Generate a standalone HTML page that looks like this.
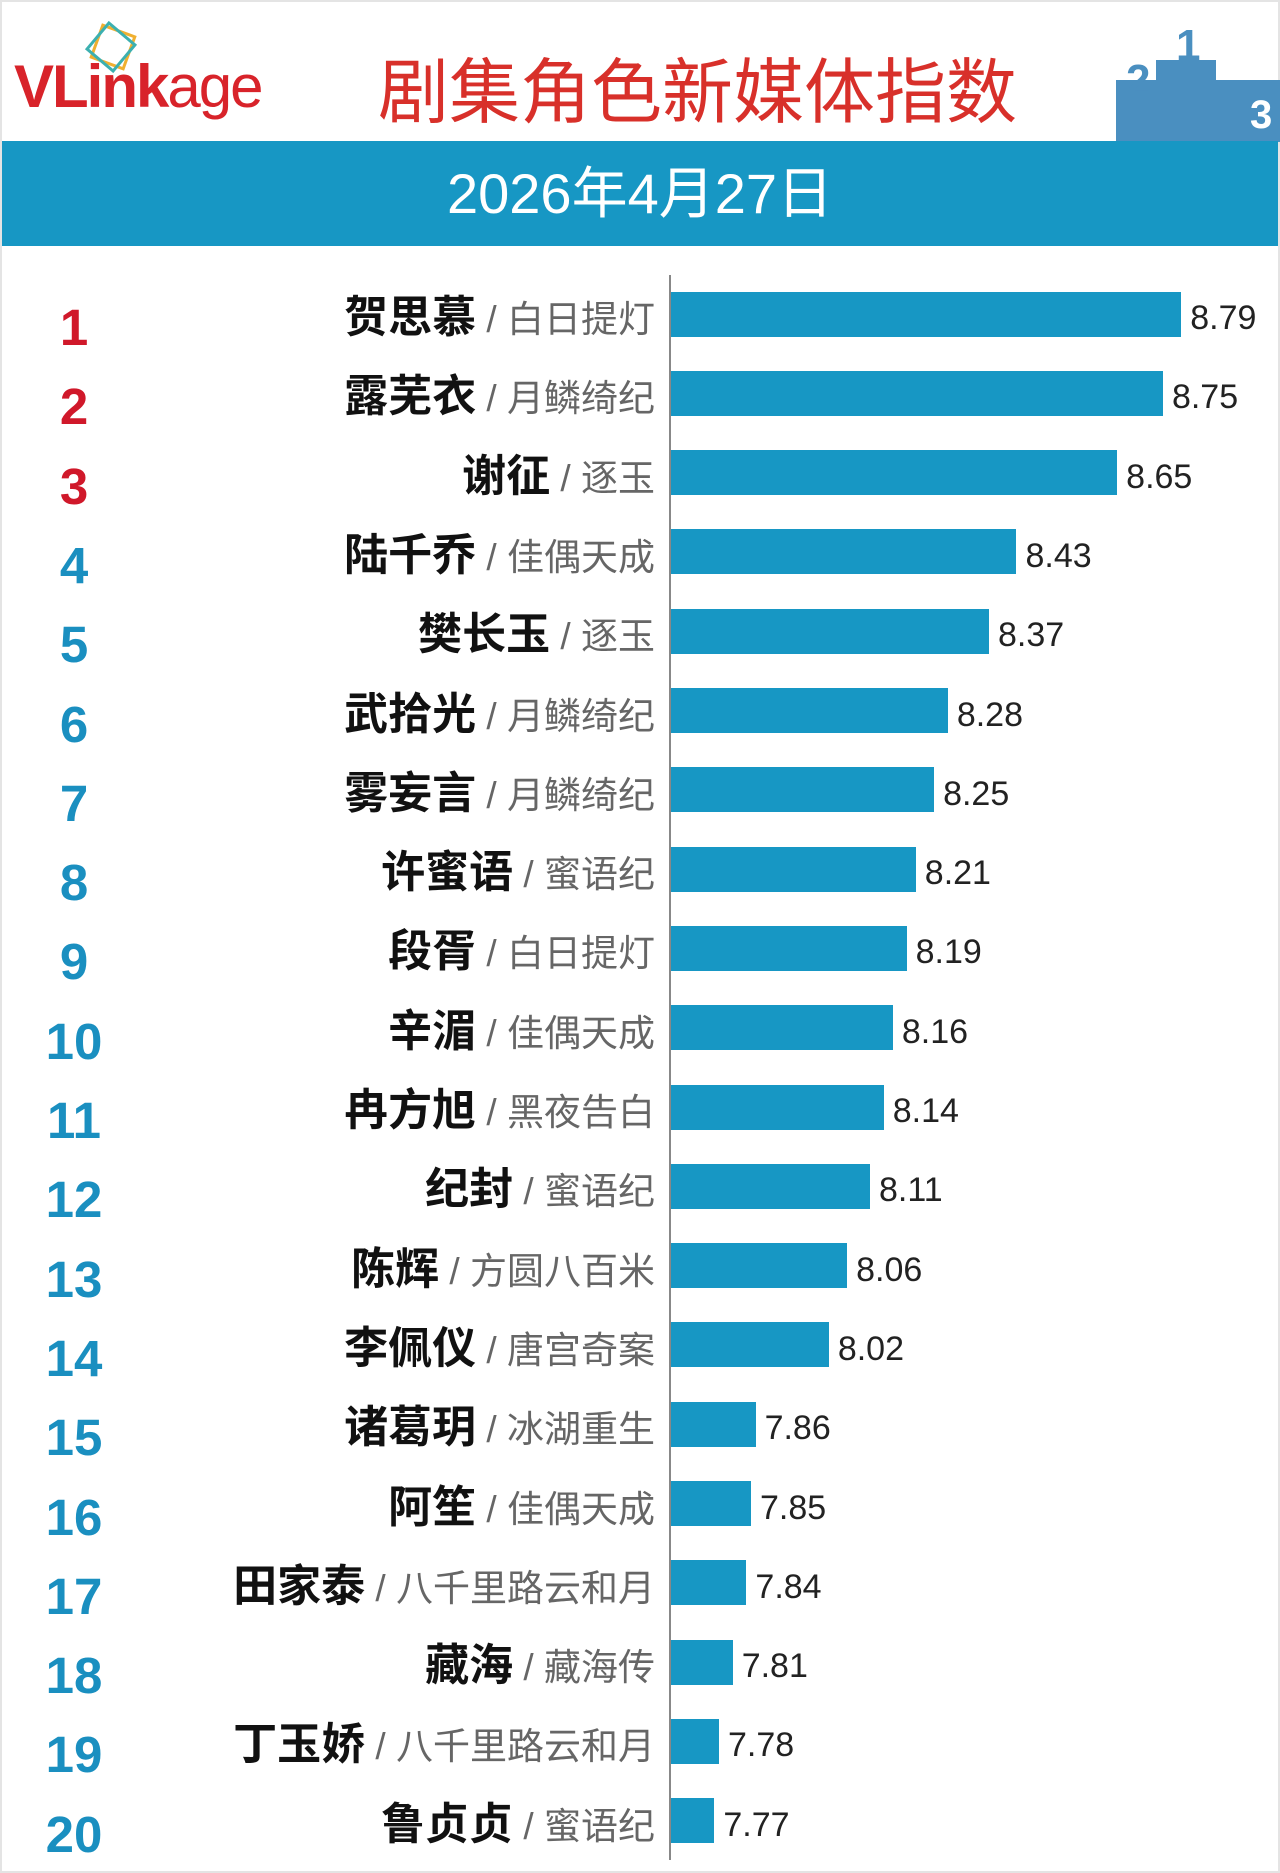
<!DOCTYPE html>
<html><head><meta charset="utf-8">
<style>
body{margin:0;width:1280px;height:1873px;background:#fff;position:relative;overflow:hidden;font-family:"Liberation Sans","Noto Sans CJK SC",sans-serif;}
.abs{position:absolute;}
</style></head>
<body>
<div class="abs" style="left:0;top:0;width:1276px;height:1869px;border:2px solid #e4e4e4;"></div>
<div class="abs" style="left:14px;top:52px;font-size:60px;letter-spacing:-2px;color:#d8232a;">
 <span style="font-weight:bold">VLink</span><span>age</span></div>
<svg class="abs" style="left:76px;top:18px" width="70" height="60">
 <rect x="20" y="12" width="34" height="34" fill="none" stroke="#f0b030" stroke-width="3" transform="rotate(20 37 29)"/>
 <rect x="18" y="12" width="34" height="34" fill="none" stroke="#3cb0b0" stroke-width="3" transform="rotate(40 35 29)"/>
</svg>
<div class="abs" style="left:378px;top:46px;width:680px;font-size:71px;color:#d8302a;font-family:'Noto Sans CJK SC',sans-serif;line-height:82px;">剧集角色新媒体指数</div>
<svg class="abs" style="left:1116px;top:20px" width="164" height="122">
 <rect x="0" y="60" width="164" height="62" fill="#4a8fc0"/>
 <rect x="40" y="40" width="60" height="82" fill="#4a8fc0"/>
 <text x="10" y="75" font-size="44" font-weight="bold" fill="#4a8fc0" font-family="Liberation Sans">2</text>
 <text x="60" y="40" font-size="44" font-weight="bold" fill="#4a8fc0" font-family="Liberation Sans">1</text>
 <text x="134" y="108" font-size="40" font-weight="bold" fill="#fff" font-family="Liberation Sans">3</text>
</svg>
<div class="abs" style="left:2px;top:141px;width:1276px;height:105px;background:#1797c4;color:#fff;font-size:56px;text-align:center;line-height:105px;">2026年4月27日</div>
<div class="abs" style="left:669px;top:275px;width:2px;height:1585px;background:#888;"></div>
<div id="chart"></div>
<script>
const ranks=[1,2,3,4,5,6,7,8,9,10,11,12,13,14,15,16,17,18,19,20];
const names=["贺思慕","露芜衣","谢征","陆千乔","樊长玉","武拾光","雾妄言","许蜜语","段胥","辛湄","冉方旭","纪封","陈辉","李佩仪","诸葛玥","阿笙","田家泰","藏海","丁玉娇","鲁贞贞"];
const shows=["白日提灯","月鳞绮纪","逐玉","佳偶天成","逐玉","月鳞绮纪","月鳞绮纪","蜜语纪","白日提灯","佳偶天成","黑夜告白","蜜语纪","方圆八百米","唐宫奇案","冰湖重生","佳偶天成","八千里路云和月","藏海传","八千里路云和月","蜜语纪"];
const values=[8.79,8.75,8.65,8.43,8.37,8.28,8.25,8.21,8.19,8.16,8.14,8.11,8.06,8.02,7.86,7.85,7.84,7.81,7.78,7.77];
const X0=670,BASE=7.673,K=457.7,Y0=314,STEP=79.3,BH=45;
function xScale(v){return X0+(v-BASE)*K;}
function yScale(i){return Y0+i*STEP;}
const root=document.getElementById('chart');
values.forEach((v,i)=>{
 const cy=yScale(i);
 const bar=document.createElement('div');
 bar.className='abs';
 
 
 bar.style.cssText=`left:${X0+1}px;top:${cy-BH/2}px;width:${xScale(v)-X0-1}px;height:${BH}px;background:#1797c4;`;
 root.appendChild(bar);
 const val=document.createElement('div');
 val.className='abs';
 
 
 val.style.cssText=`left:${xScale(v)+9}px;top:${cy-16}px;font-size:34px;line-height:40px;color:#222;`;
 val.textContent=v.toFixed(2);
 root.appendChild(val);
 const rk=document.createElement('div');
 rk.className='abs';
 
 
 rk.style.cssText=`left:14px;width:120px;text-align:center;top:${cy-14}px;font-size:51px;line-height:56px;font-weight:bold;color:${i<3?'#d0182a':'#1a8fc0'};`;
 rk.textContent=ranks[i];
 root.appendChild(rk);
 const lb=document.createElement('div');
 lb.className='abs';
 
 
 lb.style.cssText=`right:${1280-655}px;top:${cy-21}px;white-space:nowrap;line-height:50px;font-family:'Liberation Sans','Noto Sans CJK SC',sans-serif;`;
 lb.innerHTML=`<span style="font-size:44px;font-weight:bold;color:#111">${names[i]}</span><span style="font-size:37px;color:#666">&nbsp;/&nbsp;${shows[i]}</span>`;
 root.appendChild(lb);
});
</script>
</body></html>
